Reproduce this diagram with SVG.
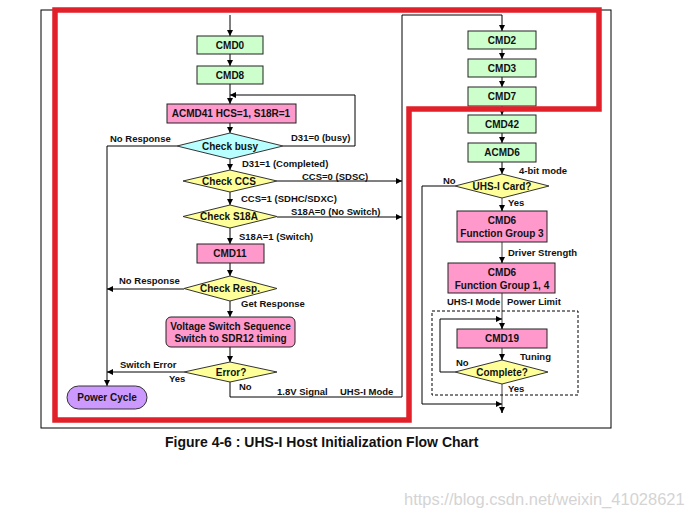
<svg xmlns="http://www.w3.org/2000/svg" width="691" height="518" viewBox="0 0 691 518">
<style>
text{font-family:"Liberation Sans",Arial,sans-serif;font-weight:bold;fill:#111;}
.lb{font-size:9.5px;}
.bt{font-size:10px;text-anchor:middle;}
.g{fill:#ccffcc;stroke:#222;stroke-width:1;}
.p{fill:#ff99cc;stroke:#222;stroke-width:1;}
.y{fill:#ffff99;stroke:#333;stroke-width:1;}
.c{fill:#b8ffff;stroke:#333;stroke-width:1;}
.ln{fill:none;stroke:#000;stroke-width:1;}
.lg{fill:none;stroke:#808080;stroke-width:1.5;}
</style>
<defs>
<marker id="a" viewBox="0 0 10 10" refX="10" refY="5" markerWidth="6" markerHeight="6" markerUnits="userSpaceOnUse" orient="auto"><path d="M0,0L10,5L0,10z" fill="#000"/></marker>
</defs>
<rect width="691" height="518" fill="#fff"/>
<rect x="41" y="10" width="570" height="418" fill="none" stroke="#000" stroke-width="1"/>

<g id="connectors">
<path class="ln" d="M230,15V36" marker-end="url(#a)"/>
<path class="ln" d="M230,54V66" marker-end="url(#a)"/>
<path class="ln" d="M230,84V104" marker-end="url(#a)"/>
<path class="ln" d="M283,146H355V95H230" marker-end="url(#a)"/>
<path class="ln" d="M230,123V133" marker-end="url(#a)"/>
<path class="ln" d="M230,158V170" marker-end="url(#a)"/>
<path class="ln" d="M230,192V205" marker-end="url(#a)"/>
<path class="ln" d="M230,228V244" marker-end="url(#a)"/>
<path class="ln" d="M230,263V276" marker-end="url(#a)"/>
<path class="ln" d="M230,301V317" marker-end="url(#a)"/>
<path class="ln" d="M230,347V362" marker-end="url(#a)"/>
<path class="ln" d="M177,146H107V386" marker-end="url(#a)"/>
<path class="ln" d="M184,289H107" marker-end="url(#a)"/>
<path class="ln" d="M184,372H107" marker-end="url(#a)"/>
<path class="ln" d="M277,181H402" marker-end="url(#a)"/>
<path class="ln" d="M277,217H402" marker-end="url(#a)"/>
<path class="ln" d="M230,382V397H402V15H502V31" marker-end="url(#a)"/>
<path class="ln" d="M502,49V59" marker-end="url(#a)"/>
<path class="ln" d="M502,77V87" marker-end="url(#a)"/>
<path class="ln" d="M502,106V115" marker-end="url(#a)"/>
<path class="ln" d="M502,133V143" marker-end="url(#a)"/>
<path class="ln" d="M502,162V174" marker-end="url(#a)"/>
<path class="lg" d="M502,198V211"/>
<path class="ln" d="M502,205V211" marker-end="url(#a)"/>
<path class="lg" d="M502,242V263"/>
<path class="ln" d="M502,257V263" marker-end="url(#a)"/>
<path class="lg" d="M502,293V329"/>
<path class="ln" d="M502,323V329" marker-end="url(#a)"/>
<path class="lg" d="M502,348V360"/>
<path class="ln" d="M502,354V360" marker-end="url(#a)"/>
<path class="lg" d="M502,384V413"/>
<path class="ln" d="M502,407V413" marker-end="url(#a)"/>
<path class="ln" d="M455,372H440V319H502" marker-end="url(#a)"/>
<path class="ln" d="M455,186H422V404H502" marker-end="url(#a)"/>
<rect x="432" y="311" width="146" height="84" fill="none" stroke="#000" stroke-width="1" stroke-dasharray="3,2"/>
</g>

<g id="cmd0"><rect class="g" x="197" y="36" width="66" height="18"/><text class="bt" x="230" y="48.5">CMD0</text></g>
<g id="cmd8"><rect class="g" x="197" y="66" width="66" height="18"/><text class="bt" x="230" y="78.5">CMD8</text></g>
<g id="acmd41"><rect class="p" x="167" y="104" width="129" height="19"/><text class="bt" x="231" y="117">ACMD41 HCS=1, S18R=1</text></g>
<g id="checkbusy"><polygon class="c" points="177,146 230,133 283,146 230,159"/><text class="bt" x="230" y="149.5">Check busy</text></g>
<g id="checkccs"><polygon class="y" points="183,181 230,170 277,181 230,192"/><text class="bt" x="229" y="184.5">Check CCS</text></g>
<g id="checks18a"><polygon class="y" points="183,216.5 230,205 277,216.5 230,228"/><text class="bt" x="229" y="220">Check S18A</text></g>
<g id="cmd11"><rect class="p" x="197" y="244" width="67" height="19"/><text class="bt" x="230" y="257">CMD11</text></g>
<g id="checkresp"><polygon class="y" points="184,288.5 230,276 277,288.5 230,301"/><text class="bt" x="230" y="292">Check Resp.</text></g>
<g id="voltage"><rect class="p" x="166" y="317" width="129" height="30" rx="5"/><text class="bt" x="230.5" y="330">Voltage Switch Sequence</text><text class="bt" x="230.5" y="342">Switch to SDR12 timing</text></g>
<g id="error"><polygon class="y" points="184,372 230,362 277,372 230,382"/><text class="bt" x="231" y="375.5">Error?</text></g>
<g id="powercycle"><rect x="67" y="386" width="80" height="23" rx="11.5" fill="#cc99ff" stroke="#333" stroke-width="1"/><text class="bt" x="107" y="401">Power Cycle</text></g>

<g id="cmd2"><rect class="g" x="468" y="31" width="68" height="18"/><text class="bt" x="502" y="43.5">CMD2</text></g>
<g id="cmd3"><rect class="g" x="468" y="59" width="68" height="18"/><text class="bt" x="502" y="71.5">CMD3</text></g>
<g id="cmd7"><rect class="g" x="468" y="87" width="68" height="19"/><text class="bt" x="502" y="100">CMD7</text></g>
<g id="cmd42"><rect class="g" x="468" y="115" width="68" height="18"/><text class="bt" x="502" y="127.5">CMD42</text></g>
<g id="acmd6"><rect class="g" x="468" y="143" width="68" height="19"/><text class="bt" x="502" y="156">ACMD6</text></g>
<g id="uhscard"><polygon class="y" points="455,186 502,174 549,186 502,198"/><text class="bt" x="502" y="189.5">UHS-I Card?</text></g>
<g id="cmd6fg3"><rect class="p" x="457" y="211" width="90" height="31"/><text class="bt" x="502" y="224">CMD6</text><text class="bt" x="502" y="237">Function Group 3</text></g>
<g id="cmd6fg14"><rect class="p" x="448" y="263" width="107" height="30"/><text class="bt" x="502" y="276">CMD6</text><text class="bt" x="502" y="288.5">Function Group 1, 4</text></g>
<g id="cmd19"><rect class="p" x="457" y="329" width="90" height="19"/><text class="bt" x="502" y="342">CMD19</text></g>
<g id="complete"><polygon class="y" points="455,372 502,360 548,372 502,384"/><text class="bt" x="502" y="375.5">Complete?</text></g>

<g id="labels">
<text class="lb" x="110" y="142">No Response</text>
<text class="lb" x="291" y="141">D31=0 (busy)</text>
<text class="lb" x="242" y="167">D31=1 (Completed)</text>
<text class="lb" x="302" y="180">CCS=0 (SDSC)</text>
<text class="lb" x="241" y="202">CCS=1 (SDHC/SDXC)</text>
<text class="lb" x="291" y="215">S18A=0 (No Switch)</text>
<text class="lb" x="239" y="240">S18A=1 (Switch)</text>
<text class="lb" x="119" y="284">No Response</text>
<text class="lb" x="241" y="307">Get Response</text>
<text class="lb" x="120" y="368">Switch Error</text>
<text class="lb" x="169" y="382">Yes</text>
<text class="lb" x="239" y="390">No</text>
<text class="lb" x="277" y="395">1.8V Signal</text>
<text class="lb" x="340" y="395">UHS-I Mode</text>
<text class="lb" x="519" y="174">4-bit mode</text>
<text class="lb" x="443" y="184">No</text>
<text class="lb" x="508" y="206">Yes</text>
<text class="lb" x="508" y="256">Driver Strength</text>
<text class="lb" x="447" y="305">UHS-I Mode</text>
<text class="lb" x="507" y="305">Power Limit</text>
<text class="lb" x="520" y="360">Tuning</text>
<text class="lb" x="456" y="366">No</text>
<text class="lb" x="508" y="392">Yes</text>
</g>

<path d="M55,420V10H599V109H409V420Z" fill="none" stroke="#e2202a" stroke-width="5.5" stroke-linejoin="miter"/>

<text x="165" y="447" style="font-size:14px">Figure 4-6 : UHS-I Host Initialization Flow Chart</text>
<text x="404" y="505" style="font-size:16.5px;font-weight:normal;fill:#d4d4d4">https://blog.csdn.net/weixin_41028621</text>
</svg>
